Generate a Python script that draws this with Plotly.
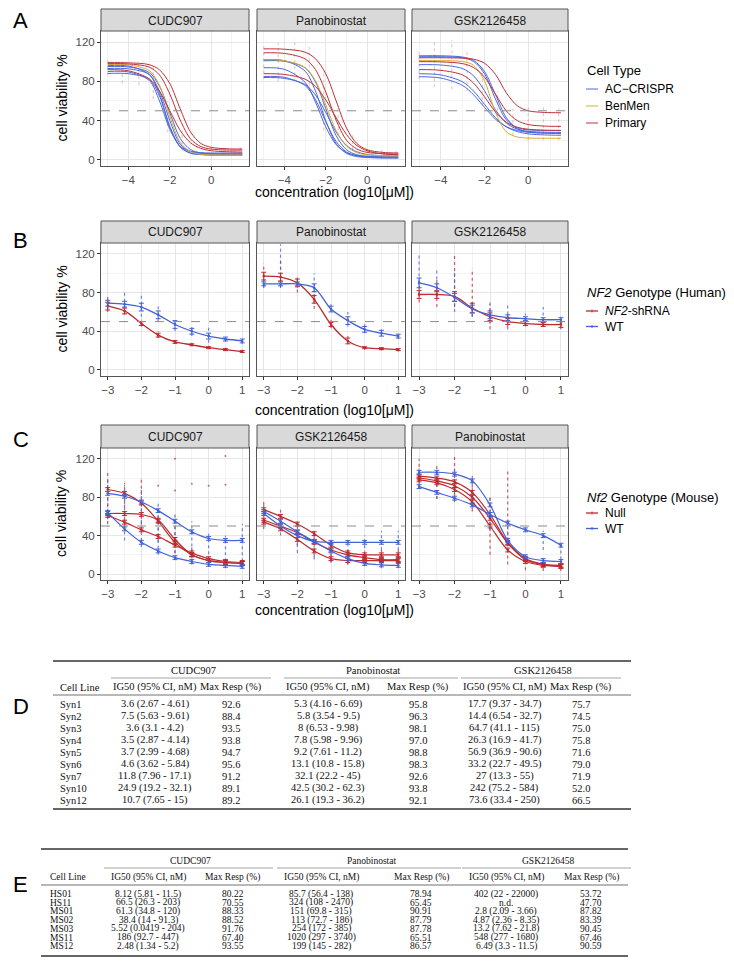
import plotly.graph_objects as go

W, H = 734, 969

# ---------------- data ----------------
drugs_A = ["CUDC907", "Panobinostat", "GSK2126458"]
drugs_B = ["CUDC907", "Panobinostat", "GSK2126458"]
drugs_C = ["CUDC907", "GSK2126458", "Panobinostat"]
cell_types = ["AC\u2212CRISPR", "BenMen", "Primary"]
human_geno = ["<i>NF2</i>-shRNA", "WT"]
mouse_geno = ["Null", "WT"]

conc_A = [-5, -4, -3, -2.5, -2, -1.5, -1, -0.5, 0, 0.75, 1.5]
conc_BC = [-3, -2.5, -2, -1.5, -1, -0.5, 0, 0.5, 1]

# Panel A fitted curves (cell viability %)
A_CUDC907_AC = [
    [96, 95.5, 87, 67, 34, 13.6, 7.1, 5.5, 5.1, 5, 5],
    [93, 92.7, 87, 70, 40, 16, 8.6, 6.6, 6.2, 6, 6],
    [90, 89.5, 81, 60, 31, 14, 8.7, 7.3, 7, 7, 7],
    [88, 87.7, 82, 65, 33, 13, 6.7, 5.3, 5, 5, 5],
    [95, 94.6, 89, 75, 48, 22, 10.5, 7, 6.2, 6, 6],
]
A_CUDC907_BM = [[97, 96.7, 91, 76, 44, 18, 8.3, 5.7, 5.1, 5, 5]]
A_CUDC907_PR = [
    [99, 98.8, 97, 91.7, 77.7, 52, 28.5, 16.7, 12.8, 11.3, 11],
    [98, 97.7, 94.5, 86.5, 67, 40.6, 21.4, 13.5, 11, 10, 10],
    [91.8, 90.7, 82.6, 70, 50, 30, 17.4, 11.6, 9.3, 8.3, 8],
]
A_PANO_AC = [
    [102, 101, 90.3, 70, 39.6, 16.5, 6.6, 3.3, 2.4, 2, 2],
    [101, 100.4, 93.7, 79.4, 52, 24.6, 10.3, 5.2, 3.6, 3, 3],
    [93.8, 92.2, 78.9, 58.8, 33.4, 15.5, 7.4, 4.5, 3.5, 3, 3],
    [85, 84, 75.7, 61.3, 38.8, 18.6, 8.1, 4.1, 2.7, 2.1, 2],
    [83.9, 83, 76.7, 66, 48.2, 28.3, 14.7, 8.2, 5.5, 4.3, 4],
]
A_PANO_BM = [[102, 101, 94, 80.4, 55.8, 29.7, 13.9, 7.3, 5.1, 4.2, 4]]
A_PANO_PR = [
    [113, 112.7, 109.7, 103, 87.6, 60, 32.4, 16.6, 10.3, 7.6, 7],
    [109, 108.4, 102.8, 91.9, 69, 40.4, 20, 11, 7.6, 6.3, 6],
    [87.8, 87, 82.2, 74.7, 61, 42.8, 25.8, 14.6, 9.2, 6.1, 5.3],
]
A_GSK_AC = [
    [106, 106, 104.7, 101.3, 90, 66.5, 42.9, 31.7, 28.3, 27.2, 27],
    [105, 105, 103.9, 100.2, 87.6, 62, 40.7, 32.7, 30.6, 30, 30],
    [96.9, 96.6, 92.9, 85.5, 70.3, 51, 37.5, 31.3, 29.1, 28.2, 28],
    [87.7, 86.5, 79.4, 70, 56.5, 43, 33.6, 28.8, 26.5, 25.4, 25.1],
    [84.7, 83.3, 75.7, 66.2, 53.4, 41.5, 33.7, 29.9, 28.2, 27.4, 27.1],
]
A_GSK_BM = [[101, 101, 100.1, 96.3, 80.3, 48.3, 28.5, 23.3, 22.2, 22, 22]]
A_GSK_PR = [
    [104, 104, 103.6, 102.5, 98.4, 87.1, 68.2, 55.1, 50, 48.3, 48],
    [100, 99.8, 98, 94, 84.2, 67, 49.8, 40, 36, 34.4, 34.1],
    [91.9, 91.2, 86.4, 78.1, 64.2, 48.8, 38.3, 33.2, 31.2, 30.2, 30],
]
# Panel A replicate ranges (faint), pooled per drug
A_pts_x = [-5, -4.3, -3.5, -2.8, -2.1, -1.4, -0.7, 0, 0.7, 1.4]
A_CUDC907_lo = [86, 78, 76, 62, 28, 10, 6, 4, 4, 4]
A_CUDC907_hi = [102, 100, 100, 96, 60, 30, 14, 12, 12, 13]
A_PANO_lo = [82, 80, 80, 70, 30, 12, 4, 2, 1, 1]
A_PANO_hi = [117, 119, 123, 115, 90, 55, 25, 12, 10, 9]
A_GSK_lo = [82, 74, 72, 70, 55, 38, 25, 20, 20, 20]
A_GSK_hi = [110, 120, 122, 110, 98, 70, 52, 55, 55, 52]

# Panel B: means, SD and replicate ranges (NF2-shRNA, WT)
B_CUDC907_KD = [66, 61, 48, 36, 29, 26, 23, 21, 19]
B_CUDC907_WT = [69, 68, 65, 57, 47, 40, 35, 32, 30]
B_PANO_KD = [97, 96, 90, 73, 47, 30, 23, 22, 21]
B_PANO_WT = [89, 89, 89, 85, 63, 51, 42, 38, 35]
B_GSK_KD = [78, 78, 76, 64, 55, 50, 48, 47, 47]
B_GSK_WT = [90, 85, 75, 63, 57, 54, 53, 52, 52]
B_CUDC907_KD_sd = [4, 3, 2, 2, 1.5, 1, 1, 1, 1]
B_CUDC907_WT_sd = [3, 3, 4, 4, 4, 3, 3, 2, 2]
B_PANO_KD_sd = [4, 4, 4, 4, 2, 3, 1, 1, 1]
B_PANO_WT_sd = [2, 2, 2, 4, 3, 4, 3, 3, 2]
B_GSK_KD_sd = [4, 4, 5, 5, 4, 3, 2, 2, 3]
B_GSK_WT_sd = [5, 4, 4, 4, 4, 3, 2, 2, 2]
B_CUDC907_KD_lo = [60, 57, 45, 33, 27, 25, 22, 20, 18]
B_CUDC907_KD_hi = [77, 70, 52, 40, 32, 28, 25, 23, 21]
B_CUDC907_WT_lo = [63, 58, 55, 50, 40, 35, 28, 29, 27]
B_CUDC907_WT_hi = [75, 80, 80, 67, 52, 47, 45, 35, 33]
B_PANO_KD_lo = [85, 85, 80, 63, 43, 27, 21, 20, 19]
B_PANO_KD_hi = [110, 115, 98, 80, 52, 35, 25, 24, 23]
B_PANO_WT_lo = [85, 85, 85, 80, 60, 45, 38, 35, 32]
B_PANO_WT_hi = [95, 130, 95, 100, 68, 60, 48, 42, 38]
B_GSK_KD_lo = [70, 65, 65, 55, 42, 42, 45, 45, 42]
B_GSK_KD_hi = [95, 95, 118, 105, 68, 60, 52, 50, 50]
B_GSK_WT_lo = [78, 75, 60, 55, 48, 45, 50, 50, 48]
B_GSK_WT_hi = [120, 103, 103, 70, 72, 68, 58, 65, 55]

# Panel C: fitted curves (Null = red, WT = blue) and replicate ranges
C_CUDC907_NULL = [
    [88, 84, 74, 55, 33, 20, 14, 12, 11],
    [63, 63, 62, 56, 36, 20, 14, 12, 11],
    [61, 54, 46, 39, 30, 22, 16, 13, 12],
]
C_CUDC907_WT = [
    [84, 81, 75, 66, 55, 44, 37, 35, 35],
    [64, 47, 33, 24, 17, 13, 10, 9, 8],
]
C_GSK_NULL = [
    [67, 60, 52, 42, 30, 22, 20, 20, 20],
    [56, 50, 43, 33, 25, 20, 17, 15, 15],
    [54, 47, 36, 24, 16, 14, 14, 14, 14],
]
C_GSK_WT = [
    [63, 50, 40, 34, 33, 33, 33, 33, 33],
    [65, 55, 44, 34, 24, 16, 11, 9.5, 9],
]
C_PANO_NULL = [
    [102, 100, 96, 85, 62, 33, 16, 10, 8],
    [100, 97, 92, 80, 58, 32, 15, 10, 9],
    [98, 95, 88, 75, 50, 25, 13, 9, 8],
]
C_PANO_WT = [
    [106, 106, 104, 97, 72, 35, 18, 14, 13],
    [91, 85, 79, 72, 62, 53, 46, 40, 30],
]
C_CUDC907_NULL_lo = [52, 50, 45, 33, 22, 12, 8, 6, 6]
C_CUDC907_NULL_hi = [107, 95, 100, 70, 60, 28, 18, 15, 14]
C_CUDC907_WT_lo = [57, 35, 28, 20, 15, 10, 8, 7, 7]
C_CUDC907_WT_hi = [98, 93, 90, 75, 62, 55, 42, 40, 52]
C_GSK_NULL_lo = [47, 45, 30, 18, 12, 10, 12, 10, 10]
C_GSK_NULL_hi = [78, 70, 55, 45, 35, 28, 25, 25, 25]
C_GSK_WT_lo = [50, 40, 22, 15, 12, 10, 8, 6, 6]
C_GSK_WT_hi = [75, 62, 55, 45, 35, 30, 40, 45, 45]
C_PANO_NULL_lo = [93, 78, 75, 65, 20, 10, 4, 3, 3]
C_PANO_NULL_hi = [120, 115, 125, 100, 82, 108, 20, 15, 12]
C_PANO_WT_lo = [90, 78, 77, 68, 45, 40, 45, 25, 15]
C_PANO_WT_hi = [110, 110, 110, 105, 80, 58, 50, 45, 30]
C_CUDC907_outlier_x = [-1.5, -1, -1, -0.5, 0, 0.5, 0.5]
C_CUDC907_outlier_y = [92, 120, 87, 94, 92, 123, 93]

# Table D
D_lines = ["Syn1", "Syn2", "Syn3", "Syn4", "Syn5", "Syn6", "Syn7", "Syn10", "Syn12"]
D_cudc_ig50 = ["3.6 (2.67 - 4.61)", "7.5 (5.63 - 9.61)", "3.6 (3.1 - 4.2)", "3.5 (2.87 - 4.14)",
               "3.7 (2.99 - 4.68)", "4.6 (3.62 - 5.84)", "11.8 (7.96 - 17.1)", "24.9 (19.2 - 32.1)",
               "10.7 (7.65 - 15)"]
D_cudc_max = ["92.6", "88.4", "93.5", "93.8", "94.7", "95.6", "91.2", "89.1", "89.2"]
D_pano_ig50 = ["5.3 (4.16 - 6.69)", "5.8 (3.54 - 9.5)", "8 (6.53 - 9.98)", "7.8 (5.98 - 9.96)",
               "9.2 (7.61 - 11.2)", "13.1 (10.8 - 15.8)", "32.1 (22.2 - 45)", "42.5 (30.2 - 62.3)",
               "26.1 (19.3 - 36.2)"]
D_pano_max = ["95.8", "96.3", "98.1", "97.0", "98.8", "98.3", "92.6", "93.8", "92.1"]
D_gsk_ig50 = ["17.7 (9.37 - 34.7)", "14.4 (6.54 - 32.7)", "64.7 (41.1 - 115)", "26.3 (16.9 - 41.7)",
              "56.9 (36.9 - 90.6)", "33.2 (22.7 - 49.5)", "27 (13.3 - 55)", "242 (75.2 - 584)",
              "73.6 (33.4 - 250)"]
D_gsk_max = ["75.7", "74.5", "75.0", "75.8", "71.6", "79.0", "71.9", "52.0", "66.5"]

# Table E
E_lines = ["HS01", "HS11", "MS01", "MS02", "MS03", "MS11", "MS12"]
E_cudc_ig50 = ["8.12 (5.81 - 11.5)", "66.5 (26.3 - 203)", "61.3 (34.8 - 120)", "38.4 (14 - 91.3)",
               "5.52 (0.0419 - 204)", "186 (92.7 - 447)", "2.48 (1.34 - 5.2)"]
E_cudc_max = ["80.22", "70.55", "88.33", "88.52", "91.76", "67.40", "93.55"]
E_pano_ig50 = ["85.7 (56.4 - 138)", "324 (108 - 2470)", "151 (69.8 - 315)", "113 (72.7 - 186)",
               "254 (172 - 385)", "1020 (297 - 3740)", "199 (145 - 282)"]
E_pano_max = ["78.94", "65.45", "90.91", "87.79", "87.78", "65.51", "86.57"]
E_gsk_ig50 = ["402 (22 - 22000)", "n.d.", "2.8 (2.09 - 3.66)", "4.87 (2.36 - 8.35)",
              "13.2 (7.62 - 21.8)", "548 (277 - 1680)", "6.49 (3.3 - 11.5)"]
E_gsk_max = ["53.72", "47.70", "87.82", "83.39", "90.45", "67.46", "90.59"]

col_heads = ["Cell Line", "IG50 (95% CI, nM)", "Max Resp (%)"]

# ---------------- styling / layout ----------------
BLUE = "#4262D6"
RED = "#BC2B2F"
type_col = {"AC\u2212CRISPR": "#4B67DB", "BenMen": "#D6AD2E", "Primary": "#BE3036"}
SANS = "Liberation Sans, Arial, sans-serif"
SERIF = "Liberation Serif, Times New Roman, serif"


def fx(p):
    return p / W


def fy(p):
    return 1 - p / H


annotations, shapes = [], []


def ann(x, y, text, size, family=SANS, color="#000000", xanchor="center", angle=0):
    annotations.append(dict(x=fx(x), y=fy(y), xref="paper", yref="paper", text=text, showarrow=False,
                            xanchor=xanchor, yanchor="middle", textangle=angle,
                            font=dict(size=size, color=color, family=family)))


def hline(x0, x1, y, color, width):
    shapes.append(dict(type="line", xref="paper", yref="paper", x0=fx(x0), x1=fx(x1),
                       y0=fy(y), y1=fy(y), line=dict(color=color, width=width)))


xdom_px = [(93, 241), (249, 397), (404, 560)]
rows = [
    dict(strip=(1, 23), plot=(23, 158), xr=[-5.325, 1.825], dtick=2, mdt=1, title_y=184, label="A", label_y=13),
    dict(strip=(213, 235), plot=(235, 368), xr=[-3.2, 1.2], dtick=1, mdt=0.5, title_y=402, label="B", label_y=232),
    dict(strip=(417, 440), plot=(440, 572), xr=[-3.2, 1.2], dtick=1, mdt=0.5, title_y=602, label="C", label_y=431),
]
row_drugs = [drugs_A, drugs_B, drugs_C]

fig = go.Figure()
layout = dict(
    width=W, height=H, margin=dict(l=0, r=0, t=0, b=0),
    paper_bgcolor="white", plot_bgcolor="white", showlegend=False,
    font=dict(family=SANS, color="#1A1A1A"),
)

for r, row in enumerate(rows):
    for c in range(3):
        k = r * 3 + c + 1
        xs = "" if k == 1 else str(k)
        x0, x1 = xdom_px[c]
        p0, p1 = row["plot"]
        layout["xaxis" + xs] = dict(
            domain=[fx(x0), fx(x1)], anchor="y" + xs, range=row["xr"],
            tick0=0, dtick=row["dtick"], ticks="outside", ticklen=3, tickcolor="#333333",
            tickfont=dict(size=11.5, color="#4D4D4D", family=SANS),
            showline=True, mirror=True, linecolor="#555555", linewidth=1,
            showgrid=True, gridcolor="#E6E6E6", gridwidth=0.8, zeroline=False,
            minor=dict(dtick=row["mdt"], tick0=0, showgrid=True, gridcolor="#F3F3F3", gridwidth=0.5),
        )
        layout["yaxis" + xs] = dict(
            domain=[fy(p1), fy(p0)], anchor="x" + xs, range=[-6.25, 131.25],
            tickvals=[0, 40, 80, 120], ticks="outside" if c == 0 else "", ticklen=3, tickcolor="#333333",
            showticklabels=(c == 0),
            tickfont=dict(size=11.5, color="#4D4D4D", family=SANS),
            showline=True, mirror=True, linecolor="#555555", linewidth=1,
            showgrid=True, gridcolor="#E6E6E6", gridwidth=0.8, zeroline=False,
            minor=dict(tickvals=[20, 60, 100], showgrid=True, gridcolor="#F3F3F3", gridwidth=0.5),
        )
        s0, s1 = row["strip"]
        shapes.append(dict(type="rect", xref="paper", yref="paper", x0=fx(x0), x1=fx(x1),
                           y0=fy(s1), y1=fy(s0), fillcolor="#D9D9D9",
                           line=dict(color="#555555", width=1), layer="above"))
        ann((x0 + x1) / 2, (s0 + s1) / 2 + 0.5, row_drugs[r][c], 12, color="#1A1A1A")
        shapes.append(dict(type="line", xref="x" + xs + " domain", yref="y" + xs, x0=0, x1=1, y0=50, y1=50,
                           line=dict(color="#8C8C8C", width=1, dash="dash"), layer="above"))
    ann(326, row["title_y"], "concentration (log10[\u03bcM])", 14)
    ann(53, sum(row["plot"]) / 2, "cell viability %", 14, angle=-90)
    ann(3, row["label_y"], row["label"], 22, xanchor="left")


def ax(k):
    s = "" if k == 1 else str(k)
    return dict(xaxis="x" + s, yaxis="y" + s)


def curve(k, x, y, color, width=1.1):
    fig.add_trace(go.Scatter(x=x, y=y, mode="lines", hoverinfo="skip",
                             line=dict(color=color, width=width, shape="spline", smoothing=0.9), **ax(k)))


def spread(k, x, lo, hi, color, opacity=0.75):
    xx, yy = [], []
    for xi, a, b in zip(x, lo, hi):
        xx += [xi, xi, None]
        yy += [a, b, None]
    fig.add_trace(go.Scatter(x=xx, y=yy, mode="lines", hoverinfo="skip",
                             line=dict(color=color, width=1.2, dash="dot"), opacity=opacity, **ax(k)))


def means(k, x, y, sd, color):
    fig.add_trace(go.Scatter(x=x, y=y, mode="markers", hoverinfo="skip",
                             marker=dict(color=color, size=2.5),
                             error_y=dict(type="data", array=sd, visible=True, color=color,
                                          thickness=1, width=2.5), **ax(k)))


# Panel A
A_sets = [
    (A_CUDC907_AC, A_CUDC907_BM, A_CUDC907_PR),
    (A_PANO_AC, A_PANO_BM, A_PANO_PR),
    (A_GSK_AC, A_GSK_BM, A_GSK_PR),
]
A_ranges = [(A_CUDC907_lo, A_CUDC907_hi), (A_PANO_lo, A_PANO_hi), (A_GSK_lo, A_GSK_hi)]
for c, sets in enumerate(A_sets):
    lo, hi = A_ranges[c]
    spread(c + 1, A_pts_x, lo, hi, "#C98A8F", opacity=0.45)
    for typ, group in zip(cell_types, sets):
        for ys in group:
            curve(c + 1, conc_A, ys, type_col[typ], width=1.0)

# Panel B
B_sets = [
    (B_CUDC907_KD, B_CUDC907_KD_sd, B_CUDC907_KD_lo, B_CUDC907_KD_hi,
     B_CUDC907_WT, B_CUDC907_WT_sd, B_CUDC907_WT_lo, B_CUDC907_WT_hi),
    (B_PANO_KD, B_PANO_KD_sd, B_PANO_KD_lo, B_PANO_KD_hi,
     B_PANO_WT, B_PANO_WT_sd, B_PANO_WT_lo, B_PANO_WT_hi),
    (B_GSK_KD, B_GSK_KD_sd, B_GSK_KD_lo, B_GSK_KD_hi,
     B_GSK_WT, B_GSK_WT_sd, B_GSK_WT_lo, B_GSK_WT_hi),
]
for c, (kd, kdsd, kdlo, kdhi, wt, wtsd, wtlo, wthi) in enumerate(B_sets):
    k = 4 + c
    spread(k, conc_BC, kdlo, kdhi, RED)
    spread(k, conc_BC, wtlo, wthi, BLUE)
    curve(k, conc_BC, kd, RED, 1.3)
    curve(k, conc_BC, wt, BLUE, 1.3)
    means(k, conc_BC, kd, kdsd, RED)
    means(k, conc_BC, wt, wtsd, BLUE)

# Panel C
C_sets = [
    (C_CUDC907_NULL, C_CUDC907_WT, C_CUDC907_NULL_lo, C_CUDC907_NULL_hi, C_CUDC907_WT_lo, C_CUDC907_WT_hi),
    (C_GSK_NULL, C_GSK_WT, C_GSK_NULL_lo, C_GSK_NULL_hi, C_GSK_WT_lo, C_GSK_WT_hi),
    (C_PANO_NULL, C_PANO_WT, C_PANO_NULL_lo, C_PANO_NULL_hi, C_PANO_WT_lo, C_PANO_WT_hi),
]
for c, (nulls, wts, nlo, nhi, wlo, whi) in enumerate(C_sets):
    k = 7 + c
    spread(k, conc_BC, nlo, nhi, RED)
    spread(k, conc_BC, wlo, whi, BLUE)
    for ys in nulls:
        curve(k, conc_BC, ys, RED, 1.2)
        means(k, conc_BC, ys, [2] * len(ys), RED)
    for ys in wts:
        curve(k, conc_BC, ys, BLUE, 1.2)
        means(k, conc_BC, ys, [2] * len(ys), BLUE)
fig.add_trace(go.Scatter(x=C_CUDC907_outlier_x, y=C_CUDC907_outlier_y, mode="markers", hoverinfo="skip",
                         marker=dict(color=RED, size=2, opacity=0.7), **ax(7)))


# ---------------- legends ----------------
def legend(title, labels, colors, tx, ty, iy, dy, mark=False, alpha=1.0):
    ann(tx, ty, title, 13, xanchor="left")
    for i, (lab, col) in enumerate(zip(labels, colors)):
        yy = iy + i * dy
        shapes.append(dict(type="line", xref="paper", yref="paper", x0=fx(tx + 1), x1=fx(tx + 13),
                           y0=fy(yy), y1=fy(yy), line=dict(color=col, width=1.3), opacity=alpha))
        if mark:
            shapes.append(dict(type="line", xref="paper", yref="paper", x0=fx(tx + 7), x1=fx(tx + 7),
                               y0=fy(yy - 1.5), y1=fy(yy + 1.5), line=dict(color=col, width=1)))
        ann(tx + 18, yy, lab, 12, xanchor="left")


legend("Cell Type", cell_types, [type_col[t] for t in cell_types], 577, 63, 81, 17, alpha=0.75)
legend("<i>NF2</i> Genotype (Human)", human_geno, [RED, BLUE], 577, 284, 303, 15.5, mark=True)
legend("<i>Nf2</i> Genotype (Mouse)", mouse_geno, [RED, BLUE], 577, 489, 505, 15.5, mark=True)


# ---------------- tables ----------------
def table(label, label_y, lines, cols, top, drug_y, cmid_y, head_y, mid_y, row0, dy, bottom,
          left, right, name_x, col_x, fsize):
    ann(3, label_y, label, 22, xanchor="left")
    hline(left, right, top, "#333333", 1.3)
    hline(left, right, mid_y, "#333333", 0.7)
    hline(left, right, bottom, "#333333", 1.3)
    for j, drug in enumerate(drugs_A):
        a, b = col_x[2 * j], col_x[2 * j + 1]
        ann((a + b) / 2, drug_y, drug, fsize, family=SERIF, color="#111111")
        hline(a - 44, b + 40, cmid_y, "#666666", 0.6)
    ann(name_x, head_y, col_heads[0], fsize, family=SERIF, color="#111111", xanchor="left")
    for j in range(6):
        ann(col_x[j], head_y, col_heads[1 + j % 2], fsize, family=SERIF, color="#111111")
    for i, nm in enumerate(lines):
        yy = row0 + i * dy
        ann(name_x, yy, nm, fsize, family=SERIF, color="#111111", xanchor="left")
        for j, colvals in enumerate(cols):
            ann(col_x[j], yy, colvals[i], fsize, family=SERIF, color="#111111")


table("D", 698, D_lines, [D_cudc_ig50, D_cudc_max, D_pano_ig50, D_pano_max, D_gsk_ig50, D_gsk_max],
      top=653, drug_y=662, cmid_y=670, head_y=679, mid_y=687, row0=696, dy=12, bottom=801,
      left=45, right=623, name_x=50, col_x=[147, 223, 320, 410, 497, 573], fsize=10.5)
table("E", 876, E_lines, [E_cudc_ig50, E_cudc_max, E_pano_ig50, E_pano_max, E_gsk_ig50, E_gsk_max],
      top=841, drug_y=853, cmid_y=860, head_y=869, mid_y=877, row0=886, dy=8.7, bottom=948,
      left=33, right=620, name_x=40, col_x=[140, 225, 313, 413, 498, 583], fsize=9.5)

layout["shapes"] = shapes
layout["annotations"] = annotations
fig.update_layout(**layout)
fig.write_html("out.html")
